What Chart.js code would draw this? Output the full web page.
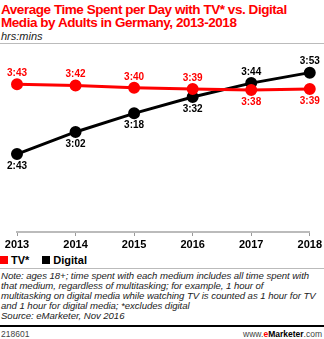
<!DOCTYPE html>
<html>
<head>
<meta charset="utf-8">
<script src="https://cdn.jsdelivr.net/npm/chart.js@4"></script>
<style>
  body { margin: 0; width: 324px; height: 339px; background: #fff; position: relative; overflow: hidden; font-family: "Liberation Sans", Arial, sans-serif; }
  #title { position: absolute; left: 1px; top: 3px; color: #f00; font-weight: bold; font-size: 13.5px; line-height: 13px; letter-spacing: -0.45px; }
  #sub { position: absolute; left: 1px; top: 30px; font-style: italic; font-size: 11px; color: #222; }
  #rule1 { position: absolute; left: 0; top: 43px; width: 324px; height: 1px; background: #bbb; }
  #wrap { position: absolute; left: 0; top: 47px; width: 324px; height: 205px; }
  #legend { position: absolute; left: 0; top: 254px; font-weight: bold; font-size: 11px; }
  #legend span.box { display: inline-block; width: 8px; height: 8px; margin-right: 3px; }
  #legend span.item { margin-right: 13px; }
  #rule2 { position: absolute; left: 0; top: 268px; width: 324px; height: 1px; background: #bbb; }
  #note { position: absolute; left: 1px; top: 271px; font-style: italic; font-size: 9.6px; line-height: 10px; color: #222; white-space: nowrap; letter-spacing: -0.05px; }
  #rule3 { position: absolute; left: 0; top: 325px; width: 324px; height: 2px; background: #000; }
  #id { position: absolute; left: 1px; top: 329px; font-size: 8.5px; color: #444; }
  #site { position: absolute; right: 2px; top: 329px; font-size: 8.5px; color: #444; }
</style>
</head>
<body>
<div id="title">Average Time Spent per Day with TV* vs. Digital<br>Media by Adults in Germany, 2013-2018</div>
<div id="sub">hrs:mins</div>
<div id="rule1"></div>
<div id="wrap"><canvas id="myChart"></canvas></div>
<div id="legend"><span class="item"><span class="box" style="background:#f00"></span>TV*</span><span class="item"><span class="box" style="background:#000"></span>Digital</span></div>
<div id="rule2"></div>
<div id="note">Note: ages 18+; time spent with each medium includes all time spent with<br>that medium, regardless of multitasking; for example, 1 hour of<br>multitasking on digital media while watching TV is counted as 1 hour for TV<br>and 1 hour for digital media; *excludes digital<br>Source: eMarketer, Nov 2016</div>
<div id="rule3"></div>
<div id="id">218601</div>
<div id="site">www.<b style="color:#f00">e</b><b style="color:#000">Marketer</b>.com</div>

<script>
// minutes per day
const years = ['2013', '2014', '2015', '2016', '2017', '2018'];
const tvMinutes = [223, 222, 220, 219, 218, 219];
const digitalMinutes = [163, 182, 198, 212, 224, 233];

function hm(v) {
  const h = Math.floor(v / 60);
  const m = v % 60;
  return h + ':' + (m < 10 ? '0' : '') + m;
}

// value labels: the higher series gets its label above, the lower one below
const valueLabels = {
  id: 'valueLabels',
  afterDatasetsDraw(chart) {
    const ctx = chart.ctx;
    const sets = chart.data.datasets;
    ctx.save();
    ctx.font = 'bold 10px "Liberation Sans", Arial, sans-serif';
    ctx.textAlign = 'center';
    ctx.textBaseline = 'middle';
    sets.forEach((ds, i) => {
      const other = sets[1 - i].data;
      chart.getDatasetMeta(i).data.forEach((pt, j) => {
        const v = ds.data[j];
        const above = v >= other[j];
        ctx.fillStyle = ds.borderColor;
        ctx.fillText(hm(v), pt.x, above ? pt.y - 11 : pt.y + 12);
      });
    });
    ctx.restore();
  }
};

const ctx = document.getElementById('myChart');
new Chart(ctx, {
  type: 'line',
  data: {
    labels: years,
    datasets: [{
      label: 'TV*',
      data: tvMinutes,
      borderColor: '#f00',
      backgroundColor: '#f00',
      borderWidth: 3,
      pointRadius: 4.5,
      pointHoverRadius: 4.5
    }, {
      label: 'Digital',
      data: digitalMinutes,
      borderColor: '#000',
      backgroundColor: '#000',
      borderWidth: 3,
      pointRadius: 4.5,
      pointHoverRadius: 4.5
    }]
  },
  options: {
    responsive: true,
    maintainAspectRatio: false,
    animation: false,
    layout: { padding: { top: 17.5, left: 17, right: 14, bottom: 0 } },
    plugins: {
      legend: { display: false },
      tooltip: { enabled: false }
    },
    scales: {
      y: { display: false, min: 96, max: 240 },
      x: {
        offset: false,
        grid: { display: true, drawOnChartArea: false, tickLength: 4, color: '#999' },
        border: { color: '#bbb', width: 2 },
        ticks: {
          color: '#000',
          padding: 2,
          maxRotation: 0,
          font: { family: '"Liberation Sans", Arial, sans-serif', weight: 'bold', size: 11 }
        },
        afterFit(scale) { scale.height = 20; }
      }
    }
  },
  plugins: [valueLabels]
});
</script>
</body>
</html>
